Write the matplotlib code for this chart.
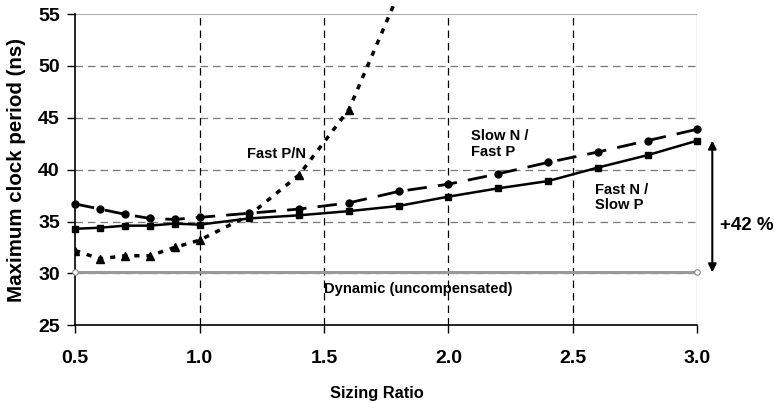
import numpy as np
import matplotlib
matplotlib.use('Agg')
import matplotlib.pyplot as plt
from matplotlib.transforms import Bbox, TransformedBbox

plt.rcParams['font.family'] = ['Liberation Sans', 'DejaVu Sans']
plt.rcParams['font.weight'] = 'bold'

# data
ratio = [0.5, 0.6, 0.7, 0.8, 0.9, 1.0, 1.2, 1.4, 1.6, 1.8, 2.0, 2.2, 2.4, 2.6, 2.8, 3.0]
slow_n_fast_p = [36.7, 36.2, 35.7, 35.3, 35.2, 35.4, 35.8, 36.2, 36.8, 37.9, 38.6, 39.6, 40.7, 41.7, 42.8, 43.9]
fast_n_slow_p = [34.3, 34.4, 34.6, 34.6, 34.8, 34.7, 35.3, 35.6, 36.0, 36.5, 37.4, 38.2, 38.9, 40.2, 41.4, 42.8]

ratio_pn = [0.5, 0.6, 0.7, 0.8, 0.9, 1.0, 1.2, 1.4, 1.6, 1.8]
fast_pn = [32.2, 31.4, 31.7, 31.7, 32.5, 33.2, 35.6, 39.5, 45.8, 57.0]
pn_markers = [0, 1, 2, 3, 4, 5, 7, 8]

dyn_x = [0.5, 3.0]
dyn_y = [30.1, 30.1]

xticks = [0.5, 1.0, 1.5, 2.0, 2.5, 3.0]
yticks = [25, 30, 35, 40, 45, 50, 55]

fig = plt.figure(figsize=(7.74, 4.03), dpi=100)
ax = fig.add_axes([0.097, 0.193, 0.804, 0.772])

ax.set_xlim(0.5, 3.0)
ax.set_ylim(25, 55)

# grid
for y in yticks[1:-1]:
    ax.axhline(y, color='#777777', lw=0.9, ls=(0, (6, 4)), zorder=1)
ax.axhline(55, color='#aaaaaa', lw=1.5, zorder=1)
for x in xticks[1:-1]:
    ax.axvline(x, color='black', lw=0.9, ls=(0, (6, 4)), zorder=1)
ax.axvline(3.0, color='#999999', lw=0.9, zorder=1)

# dynamic baseline
ax.plot(dyn_x, dyn_y, color='#999999', lw=2.2, marker='o', ms=4,
        mfc='white', mec='#888888', mew=0.8, zorder=3, clip_on=False)

ax.plot(ratio, fast_n_slow_p, color='black', lw=1.8, marker='s', ms=5, zorder=4, clip_on=False)
ax.plot(ratio, slow_n_fast_p, color='black', lw=2.0, ls=(0, (7, 4)), marker='o', ms=5,
        zorder=4, clip_on=False)
pn, = ax.plot(ratio_pn, fast_pn, color='black', lw=2.5, ls=(0, (1.5, 2.0)), marker='^', ms=6,
              markevery=pn_markers, zorder=4)
pn.set_clip_box(TransformedBbox(Bbox([[0, -0.05], [1, 1.025]]), ax.transAxes))

# +42 % arrow
ax.annotate('', xy=(3.06, 30.1), xytext=(3.06, 42.8), xycoords='data',
            arrowprops=dict(arrowstyle='<|-|>', color='black', lw=1.5,
                            mutation_scale=12, shrinkA=0, shrinkB=0),
            annotation_clip=False)
ax.text(3.2, 34.6, '+42 %', fontsize=13.5, fontweight='bold', ha='center', va='center')

ax.text(1.31, 41.5, 'Fast P/N', fontsize=10.6, fontweight='bold', ha='center', va='center')
ax.text(2.09, 42.5, 'Slow N /\nFast P', fontsize=10.6, fontweight='bold', ha='left', va='center',
        linespacing=1.15)
ax.text(2.59, 37.3, 'Fast N /\nSlow P', fontsize=10.6, fontweight='bold', ha='left', va='center',
        linespacing=1.15)
ax.text(1.88, 28.5, 'Dynamic (uncompensated)', fontsize=10.6, fontweight='bold',
        ha='center', va='center')

ax.set_xticks(xticks)
ax.set_xticklabels(['%.1f' % v for v in xticks])
ax.set_yticks(yticks)
ax.tick_params(axis='both', labelsize=14, direction='out', length=6, width=1, colors='black')
ax.tick_params(axis='x', pad=12)
ax.tick_params(axis='y', pad=5)
for lab in ax.get_xticklabels() + ax.get_yticklabels():
    lab.set_fontweight('bold')

for edge in ['top', 'right']:
    ax.spines[edge].set_visible(False)
ax.spines['left'].set_linewidth(1.2)
ax.spines['bottom'].set_linewidth(1.2)

ax.set_xlabel('Sizing Ratio', fontsize=11.8, fontweight='bold')
ax.xaxis.set_label_coords(0.485, -0.195)
ax.set_ylabel('Maximum clock period (ns)', fontsize=14.8, fontweight='bold', labelpad=9)

fig.savefig('out.png', dpi=100)
